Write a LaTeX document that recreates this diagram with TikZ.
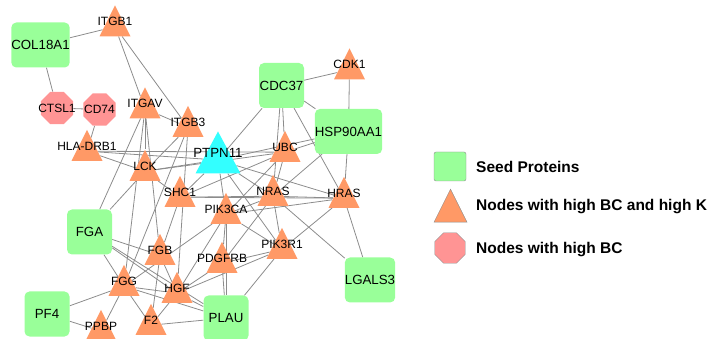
\documentclass[tikz,border=0pt]{standalone}
\usepackage{fontspec}
\setmainfont{Liberation Sans}
\usetikzlibrary{shapes.geometric,backgrounds}
\definecolor{seedgreen}{HTML}{99FF99}
\definecolor{bcorange}{HTML}{FF9966}
\definecolor{bcpink}{HTML}{FF9494}
\definecolor{hubcyan}{HTML}{33FFFF}
\definecolor{edgegray}{HTML}{8C8C8C}

\begin{document}
\begin{tikzpicture}
    [x=1pt,y=-1pt,
     lbl/.style={inner sep=0pt,font=\fontsize{12}{13}\selectfont},
     seed/.style={rectangle,rounded corners=5pt,fill=seedgreen,minimum size=45pt,inner sep=0pt,font=\fontsize{13.3}{14}\selectfont},
     tri/.style={isosceles triangle,isosceles triangle stretches,shape border rotate=90,minimum width=31pt,minimum height=31pt,inner sep=0pt,fill=bcorange,yshift=-5.2pt,label={[lbl,yshift=5.2pt]center:#1}},
     octa/.style={regular polygon,regular polygon sides=8,minimum size=35pt,inner sep=0pt,fill=bcpink,label={[lbl]center:#1}},
     link/.style={draw=edgegray,line width=0.8pt}]
    \useasboundingbox (0,0) rectangle (710,339);

    % seed proteins
    \node[seed] (col18a1) at (40.5,45) {COL18A1};
    \node[seed] (cdc37) at (281.5,85.5) {CDC37};
    \node[seed] (hsp90aa1) at (348.5,131.5) {HSP90AA1};
    \node[seed] (fga) at (89.5,232) {FGA};
    \node[seed] (pf4) at (47,314) {PF4};
    \node[seed] (plau) at (226,318) {PLAU};
    \node[seed] (lgals3) at (370,280) {LGALS3};

    % high BC and high K
    \node[tri=ITGB1] (itgb1) at (115,21.5) {};
    \node[tri=ITGAV] (itgav) at (145,103.5) {};
    \node[tri=ITGB3] (itgb3) at (188,122) {};
    \node[tri=HLA-DRB1] (hladrb1) at (87,146) {};
    \node[tri=LCK] (lck) at (145,166) {};
    \node[tri=SHC1] (shc1) at (180,192) {};
    \node[tri=CDK1] (cdk1) at (349.5,64.5) {};
    \node[tri=UBC] (ubc) at (285,147) {};
    \node[tri=NRAS] (nras) at (273,191) {};
    \node[tri=HRAS] (hras) at (344,193) {};
    \node[tri=PIK3CA] (pik3ca) at (226,209) {};
    \node[tri=PDGFRB] (pdgfrb) at (222,258) {};
    \node[tri=PIK3R1] (pik3r1) at (282,244) {};
    \node[tri=FGB] (fgb) at (160,250) {};
    \node[tri=FGG] (fgg) at (124,281) {};
    \node[tri=HGF] (hgf) at (177,288) {};
    \node[tri=F2] (f2) at (151,320) {};
    \node[tri=PPBP] (ppbp) at (101,326) {};
    \node[tri, minimum width=45pt, minimum height=42pt, fill=hubcyan, yshift=-1.8pt,
          label={[font=\fontsize{13.3}{14}\selectfont,yshift=7pt]center:PTPN11}] (ptpn11) at (218,153) {};

    % high BC
    \node[octa=CTSL1] (ctsl1) at (57,108) {};
    \node[octa=CD74] (cd74) at (99.5,109.5) {};

    \begin{scope}[on background layer]
    \draw[link] (col18a1) -- (itgb1);
    \draw[link] (col18a1) -- (ctsl1);
    \draw[link] (ctsl1) -- (cd74);
    \draw[link] (cd74) -- (hladrb1);
    \draw[link] (itgb1) -- (itgav);
    \draw[link] (itgb1) -- (itgb3);
    \draw[link] (itgav) -- (itgb3);
    \draw[link] (hladrb1) -- (ptpn11);
    \draw[link] (hladrb1) -- (lck);
    \draw[link] (hladrb1) -- (ubc);
    \draw[link] (itgav) -- (lck);
    \draw[link] (itgav) -- (fga);
    \draw[link] (itgav) -- (fgg);
    \draw[link] (itgav) -- (fgb);
    \draw[link] (itgb3) -- (lck);
    \draw[link] (itgb3) -- (fgg);
    \draw[link] (itgb3) -- (hgf);
    \draw[link] (lck) -- (ptpn11);
    \draw[link] (lck) -- (shc1);
    \draw[link] (lck) -- (fga);
    \draw[link] (lck) -- (ubc);
    \draw[link] (ptpn11) -- (cdc37);
    \draw[link] (ptpn11) -- (shc1);
    \draw[link] (ptpn11) -- (pik3ca);
    \draw[link] (ptpn11) -- (nras);
    \draw[link] (ptpn11) -- (hras);
    \draw[link] (ptpn11) -- (pik3r1);
    \draw[link] (ptpn11) -- (hsp90aa1);
    \draw[link] (shc1) -- (nras);
    \draw[link] (shc1) -- (hras);
    \draw[link] (shc1) -- (ubc);
    \draw[link] (shc1) -- (fgb);
    \draw[link] (cdc37) -- (cdk1);
    \draw[link] (cdc37) -- (hsp90aa1);
    \draw[link] (cdc37) -- (ubc);
    \draw[link] (cdc37) -- (nras);
    \draw[link] (cdc37) -- (hras);
    \draw[link] (cdk1) -- (hsp90aa1);
    \draw[link] (hsp90aa1) -- (ubc);
    \draw[link] (hsp90aa1) -- (nras);
    \draw[link] (hsp90aa1) -- (hras);
    \draw[link] (ubc) -- (nras);
    \draw[link] (ubc) -- (pik3ca);
    \draw[link] (nras) -- (hras);
    \draw[link] (nras) -- (pik3ca);
    \draw[link] (nras) -- (pik3r1);
    \draw[link] (nras) -- (pdgfrb);
    \draw[link] (nras) -- (lgals3);
    \draw[link] (hras) -- (pik3r1);
    \draw[link] (hras) -- (lgals3);
    \draw[link] (hras) -- (pik3ca);
    \draw[link] (pik3ca) -- (pdgfrb);
    \draw[link] (pik3ca) -- (pik3r1);
    \draw[link] (pik3ca) -- (hgf);
    \draw[link] (pik3ca) -- (plau);
    \draw[link] (pik3ca) -- (fgg);
    \draw[link] (pdgfrb) -- (pik3r1);
    \draw[link] (pdgfrb) -- (hgf);
    \draw[link] (pdgfrb) -- (plau);
    \draw[link] (pik3r1) -- (hgf);
    \draw[link] (pik3r1) -- (plau);
    \draw[link] (fga) -- (fgb);
    \draw[link] (fga) -- (hgf);
    \draw[link] (fga) -- (fgg);
    \draw[link] (fga) -- (plau);
    \draw[link] (fgb) -- (hgf);
    \draw[link] (fgb) -- (f2);
    \draw[link] (fgg) -- (hgf);
    \draw[link] (fgg) -- (f2);
    \draw[link] (fgg) -- (pf4);
    \draw[link] (fgg) -- (ppbp);
    \draw[link] (fgg) -- (plau);
    \draw[link] (hgf) -- (f2);
    \draw[link] (hgf) -- (plau);
    \draw[link] (f2) -- (plau);
    \draw[link] (pf4) -- (ppbp);
    \end{scope}

    % legend
    \begin{scope}[every node/.style={font=\fontsize{15.5}{16}\selectfont\bfseries,inner sep=0pt,anchor=base west}]
    \node[rectangle,rounded corners=2pt,draw=edgegray,fill=seedgreen,minimum width=32pt,minimum height=29pt,anchor=center] (legseed) at (450,166.5) {};
    \node[isosceles triangle,isosceles triangle stretches,shape border rotate=90,draw=edgegray,fill=bcorange,minimum width=33pt,minimum height=33pt,anchor=center] (legtri) at (450.5,212) {};
    \node[regular polygon,regular polygon sides=8,draw=edgegray,fill=bcpink,minimum size=33pt,anchor=center] (legocta) at (450,248) {};
    \node (legseedtxt) at (476,173) {Seed Proteins};
    \node (legtritxt) at (476,211) {Nodes with high BC and high K};
    \node (legoctatxt) at (476,254) {Nodes with high BC};
    \end{scope}
\end{tikzpicture}
\end{document}
